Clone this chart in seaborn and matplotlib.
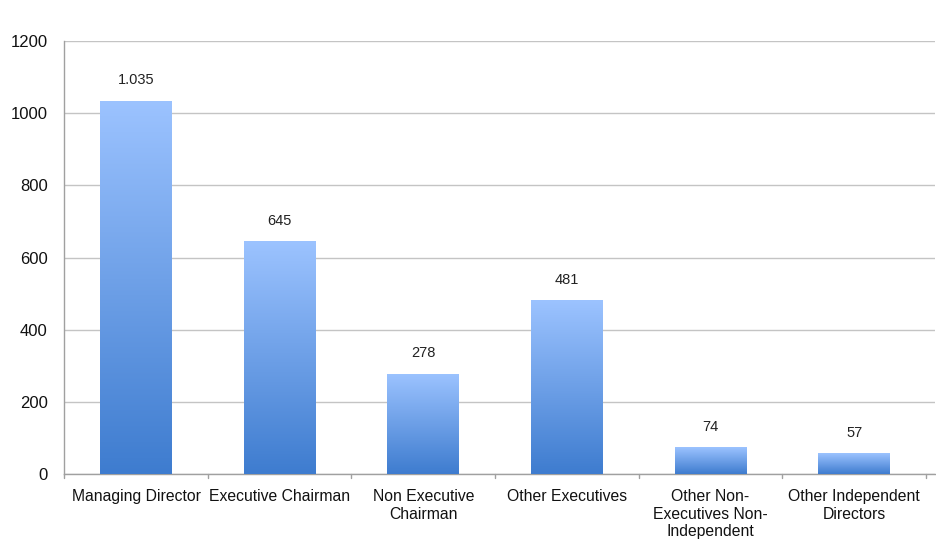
import matplotlib
matplotlib.use('Agg')
import matplotlib.pyplot as plt
import seaborn as sns
import numpy as np
import pandas as pd
from matplotlib.colors import LinearSegmentedColormap

categories = ['Managing Director', 'Executive Chairman', 'Non Executive\nChairman',
              'Other Executives', 'Other Non-\nExecutives Non-\nIndependent',
              'Other Independent\nDirectors']
values = [1035, 645, 278, 481, 74, 57]
value_labels = ['1.035', '645', '278', '481', '74', '57']
y_ticks = [0, 200, 400, 600, 800, 1000, 1200]

sns.set_style('white')
plt.rcParams['font.family'] = ['Liberation Sans', 'DejaVu Sans']

df = pd.DataFrame({'role': categories, 'count': values})

fig = plt.figure(figsize=(9.37, 5.52), dpi=100)
ax = fig.add_axes([0.0685, 0.1413, 0.929, 0.7844])

sns.barplot(data=df, x='role', y='count', width=0.5, color='#6a9fe8', ax=ax,
            saturation=1, zorder=2)

# vertical gradient on each bar: light at top, darker at bottom
cmap = LinearSegmentedColormap.from_list('bar', ['#3e7ccf', '#9cc3ff'])
grad = np.linspace(0, 1, 256).reshape(-1, 1)
for patch in ax.patches:
    x0, y0 = patch.get_x(), patch.get_y()
    w, h = patch.get_width(), patch.get_height()
    im = ax.imshow(grad, cmap=cmap, origin='lower', aspect='auto',
                   extent=(x0, x0 + w, y0, y0 + h), zorder=3)
    im.set_clip_path(patch)
    patch.set_alpha(0)

for i, (v, lab) in enumerate(zip(values, value_labels)):
    ax.text(i, v + 38, lab, ha='center', va='bottom', fontsize=10.5,
            color='#222222', zorder=4)

ax.set_xlim(-0.5, 5.56)
ax.set_ylim(0, 1200)
ax.set_yticks(y_ticks)
ax.set_yticklabels([str(t) for t in y_ticks], fontsize=12, color='#111111')
ax.yaxis.grid(True, color='#c4c4c4', linewidth=1, zorder=0)
ax.set_axisbelow(True)

# category boundary ticks on x axis
ax.set_xticks(range(len(categories)))
ax.set_xticklabels(categories, fontsize=11.3, color='#111111', linespacing=1.2)
ax.tick_params(axis='x', length=0, pad=11)
for b in np.arange(-0.5, 5.6, 1.0):
    ax.plot([b, b], [0, -12], color='#a0a0a0', linewidth=1, clip_on=False, zorder=1)
ax.tick_params(axis='y', length=5, color='#a0a0a0', width=1, pad=7)

ax.set_xlabel('')
ax.set_ylabel('')
for side in ['top', 'right']:
    ax.spines[side].set_visible(False)
for side in ['left', 'bottom']:
    ax.spines[side].set_color('#a0a0a0')
    ax.spines[side].set_linewidth(1)

fig.savefig('out.png', dpi=100)
